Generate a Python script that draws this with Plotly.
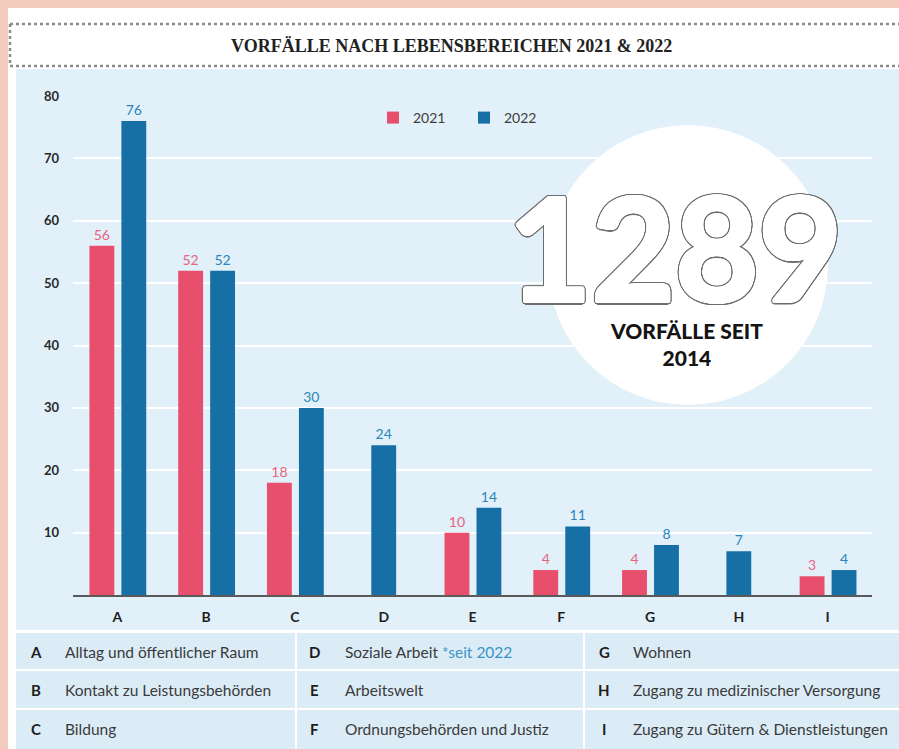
import plotly.graph_objects as go

# ---------------- data ----------------
categories = ["A", "B", "C", "D", "E", "F", "G", "H", "I"]
values_2021 = [56, 52, 18, None, 10, 4, 4, None, 3]
values_2022 = [76, 52, 30, 24, 14, 11, 8, 7, 4]
series_names = ["2021", "2022"]
category_names = [
    "Alltag und öffentlicher Raum",
    "Kontakt zu Leistungsbehörden",
    "Bildung",
    "Soziale Arbeit",
    "Arbeitswelt",
    "Ordnungsbehörden und Justiz",
    "Wohnen",
    "Zugang zu medizinischer Versorgung",
    "Zugang zu Gütern & Dienstleistungen",
]
category_notes = ["", "", "", "*seit 2022", "", "", "", "", ""]
y_ticks = [10, 20, 30, 40, 50, 60, 70, 80]
title_text = "VORFÄLLE NACH LEBENSBEREICHEN 2021 & 2022"
total_incidents = "1289"
total_caption = ["VORFÄLLE SEIT", "2014"]

# ---------------- style ----------------
W, H = 899, 749
ML, MR, MT, MB = 73, 27, 96, 154
PW, PH = W - ML - MR, H - MT - MB

PINK = "#e84f6d"
BLUE = "#1670a6"
PINK_TXT = "#e8647f"
BLUE_TXT = "#2b86ba"
PEACH = "#f3ccbe"
CHART_BG = "#e2f0f9"
TABLE_BG = "#dcecf7"
NOTE_BLUE = "#3a94c6"


def px_x(px):
    return (px - ML) / PW


def px_y(py):
    return (H - MB - py) / PH


BAR_W = 0.28
OFF_LEFT, OFF_RIGHT, OFF_SINGLE = -0.315, 0.045, -0.14

off_2021 = [OFF_LEFT for _ in values_2021]
off_2022 = [OFF_RIGHT if v is not None else OFF_SINGLE for v in values_2021]

fig = go.Figure()
fig.add_trace(go.Bar(
    name=series_names[0], x=categories, y=values_2021,
    marker=dict(color=PINK, line=dict(width=0)),
    width=[BAR_W] * len(categories), offset=off_2021,
    texttemplate="%{y}", textposition="outside",
    textfont=dict(family="Lato", size=14, color=PINK_TXT),
    cliponaxis=False, hoverinfo="skip",
))
fig.add_trace(go.Bar(
    name=series_names[1], x=categories, y=values_2022,
    marker=dict(color=BLUE, line=dict(width=0)),
    width=[BAR_W] * len(categories), offset=off_2022,
    texttemplate="%{y}", textposition="outside",
    textfont=dict(family="Lato", size=14, color=BLUE_TXT),
    cliponaxis=False, hoverinfo="skip",
))

shapes = []
# white panel
shapes.append(dict(type="rect", xref="paper", yref="paper", layer="below",
                   x0=px_x(8), x1=px_x(W), y0=px_y(8), y1=px_y(H),
                   fillcolor="white", line=dict(width=0)))
# chart area background
shapes.append(dict(type="rect", xref="paper", yref="paper", layer="below",
                   x0=px_x(16), x1=px_x(W), y0=px_y(69), y1=px_y(630),
                   fillcolor=CHART_BG, line=dict(width=0)))
# table background
shapes.append(dict(type="rect", xref="paper", yref="paper", layer="below",
                   x0=px_x(16), x1=px_x(W), y0=px_y(633), y1=px_y(H),
                   fillcolor=TABLE_BG, line=dict(width=0)))
for ly in (670, 709):
    shapes.append(dict(type="line", xref="paper", yref="paper", layer="below",
                       x0=px_x(16), x1=px_x(W), y0=px_y(ly), y1=px_y(ly),
                       line=dict(color="white", width=2)))
for lx in (296, 584):
    shapes.append(dict(type="line", xref="paper", yref="paper", layer="below",
                       x0=px_x(lx), x1=px_x(lx), y0=px_y(633), y1=px_y(H),
                       line=dict(color="white", width=2)))
# dotted title frame
for ly in (24, 66):
    shapes.append(dict(type="line", xref="paper", yref="paper", layer="below",
                       x0=px_x(10), x1=px_x(W), y0=px_y(ly), y1=px_y(ly),
                       line=dict(color="#8a8a8a", width=2.5, dash="3px,3px")))
shapes.append(dict(type="line", xref="paper", yref="paper", layer="below",
                   x0=px_x(10), x1=px_x(10), y0=px_y(24), y1=px_y(66),
                   line=dict(color="#8a8a8a", width=2.5, dash="3px,3px")))
# white circle
shapes.append(dict(type="circle", xref="paper", yref="paper", layer="between",
                   x0=px_x(548), x1=px_x(828), y0=px_y(125), y1=px_y(405),
                   fillcolor="white", line=dict(width=0)))

annotations = []
annotations.append(dict(xref="paper", yref="paper", x=px_x(451), y=px_y(46),
                        text=title_text.replace("&", "&amp;"), showarrow=False,
                        xanchor="center", yanchor="middle",
                        font=dict(family="Liberation Serif", size=18, color="#222222", weight="bold")))

# outlined big number: white fattening shadows, then grey outline ring
import math
fat = [f"{1.8*math.cos(a):.2f}px {1.8*math.sin(a):.2f}px 0 #ffffff"
       for a in [k * math.pi / 8 for k in range(16)]]
ring = [f"{3.0*math.cos(a):.2f}px {3.0*math.sin(a):.2f}px 0 #6e6e6e"
        for a in [k * math.pi / 12 for k in range(24)]]
outline = ",".join(fat + ring)
annotations.append(dict(xref="paper", yref="paper", x=px_x(675), y=px_y(246),
                        text=total_incidents, showarrow=False,
                        xanchor="center", yanchor="middle", height=118,
                        font=dict(family="Lato", size=144, color="white", weight="bold", shadow=outline)))
annotations.append(dict(xref="paper", yref="paper", x=px_x(686), y=px_y(344),
                        text="<br>".join(total_caption), showarrow=False,
                        xanchor="center", yanchor="middle",
                        font=dict(family="Lato", size=21, color="#141414", weight=900)))

col_letter_x = [36, 314, 604]
col_text_x = [63, 343, 631]
row_y = [652, 690, 729]
for i, (cat, name, note) in enumerate(zip(categories, category_names, category_notes)):
    c, r = i // 3, i % 3
    annotations.append(dict(xref="paper", yref="paper", x=px_x(col_letter_x[c]), y=px_y(row_y[r]),
                            text=cat, showarrow=False, xanchor="center", yanchor="middle",
                            font=dict(family="Lato", size=15, color="#1e1e1e", weight="bold")))
    txt = name.replace("&", "&amp;")
    if note:
        txt += f' <span style="color:{NOTE_BLUE}">{note}</span>'
    annotations.append(dict(xref="paper", yref="paper", x=px_x(col_text_x[c]), y=px_y(row_y[r]),
                            text=txt, showarrow=False, xanchor="left", yanchor="middle",
                            font=dict(family="Lato", size=15.5, color="#3a3a3a")))

fig.update_layout(
    width=W, height=H,
    margin=dict(l=ML, r=MR, t=MT, b=MB, pad=0),
    paper_bgcolor=PEACH, plot_bgcolor="rgba(0,0,0,0)",
    barmode="overlay",
    shapes=shapes, annotations=annotations,
    showlegend=True,
    legend=dict(orientation="h", x=px_x(373), y=px_y(118), xanchor="left", yanchor="middle",
                bgcolor="rgba(0,0,0,0)", font=dict(family="Lato", size=14, color="#3c3c3c"),
                entrywidth=46, entrywidthmode="pixels", itemclick=False, itemdoubleclick=False),
    xaxis=dict(type="category", categoryorder="array", categoryarray=categories,
               range=[-0.5, 8.5], showgrid=False, zeroline=False,
               showline=True, linecolor="#5a5a5a", linewidth=2, ticks="",
               tickfont=dict(family="Lato", size=14, color="#1e1e1e", weight="bold"),
               ticklabelstandoff=8),
    yaxis=dict(range=[0, 80], tickvals=y_ticks, showgrid=True, gridcolor="white", gridwidth=2,
               zeroline=False, showline=False, ticks="",
               tickfont=dict(family="Lato", size=13, color="#2a2a2a", weight="bold"),
               ticklabelstandoff=13),
)

fig.write_html(
    "out.html",
    config={"displayModeBar": False},
    post_script="document.body.style.margin='0';document.body.style.background='%s';" % PEACH,
)
